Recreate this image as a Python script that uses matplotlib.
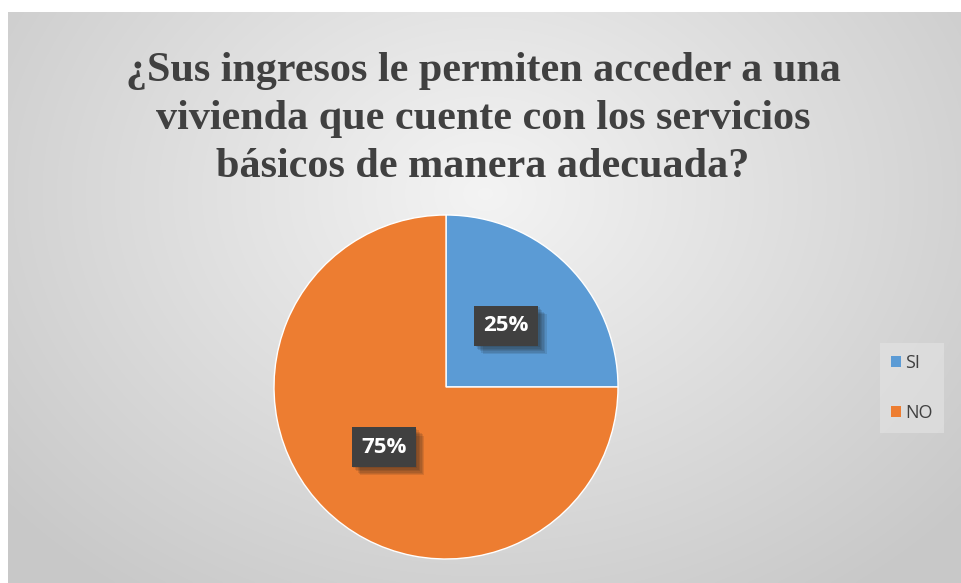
#!/usr/bin/env python

import numpy as np
import matplotlib.pyplot as plt
import matplotlib.patheffects as pe

labels = ["SI", "NO"]
values = [25, 75]
colors = ["#5B9BD5", "#ED7D31"]
title = "¿Sus ingresos le permiten acceder a una\nvivienda que cuente con los servicios\nbásicos de manera adecuada?"


def main():
    W, H = 961, 583
    fig = plt.figure(figsize=(W / 100, H / 100), dpi=100)
    fig.patch.set_facecolor("white")

    # radial gray background of the chart area
    bg = fig.add_axes([8 / W, 0, 1 - 8 / W, 1 - 12 / H])
    bg.set_axis_off()
    yy, xx = np.mgrid[0:300, 0:500]
    cx, cy = 250, 95
    r = np.sqrt(((xx - cx) / 330.0) ** 2 + ((yy - cy) / 260.0) ** 2)
    r = np.clip(r, 0, 1)
    g = 0.955 - 0.17 * r
    bg.imshow(np.dstack([g, g, g]), aspect="auto", extent=[0, 1, 0, 1],
              origin="upper", interpolation="bilinear")
    bg.set_xlim(0, 1)
    bg.set_ylim(0, 1)

    fig.text(483 / W, 1 - 119 / H, title, ha="center", va="center",
             fontsize=30.3, fontweight="bold", family="Liberation Serif",
             color="#404040", linespacing=1.33)

    # pie: center (446, 387), radius 172 px
    R = 172
    ax = fig.add_axes([(446 - R) / W, (H - 387 - R) / H, 2 * R / W, 2 * R / H])
    wedges, _ = ax.pie(values, colors=colors, startangle=90, counterclock=False,
                       radius=1.0, wedgeprops=dict(linewidth=1, edgecolor="white"))
    ax.set_xlim(-1, 1)
    ax.set_ylim(-1, 1)
    ax.set_aspect("equal")

    pos = [(0.35, 0.355), (-0.36, -0.35)]
    shadow = [pe.SimplePatchShadow(offset=(o, -o), shadow_rgbFace="#202020", alpha=0.12)
              for o in (1, 2, 3, 4, 5, 6)]
    for v, (px, py) in zip(values, pos):
        t = ax.text(px, py, "%d%%" % v, ha="center", va="center",
                    fontsize=16, fontweight="bold", color="white",
                    family="Open Sans",
                    bbox=dict(boxstyle="square,pad=0.42", facecolor="#404040",
                              edgecolor="none"))
        t.get_bbox_patch().set_path_effects(shadow + [pe.Normal()])

    leg = fig.legend(wedges, labels, loc="center left",
                     bbox_to_anchor=(880 / W, 1 - 388 / H),
                     frameon=True, fancybox=False,
                     handlelength=0.55, handleheight=0.55, handletextpad=0.25,
                     labelspacing=1.75, borderpad=0.6, borderaxespad=0,
                     prop=dict(family="Open Sans", size=13))
    leg.get_frame().set_facecolor("#e4e4e4")
    leg.get_frame().set_edgecolor("none")
    leg.get_frame().set_alpha(0.6)
    for txt in leg.get_texts():
        txt.set_color("#404040")
    for h in leg.legend_handles:
        h.set_edgecolor("none")

    fig.savefig("out.png", dpi=100)
    plt.close()


if __name__ == "__main__":
    main()
